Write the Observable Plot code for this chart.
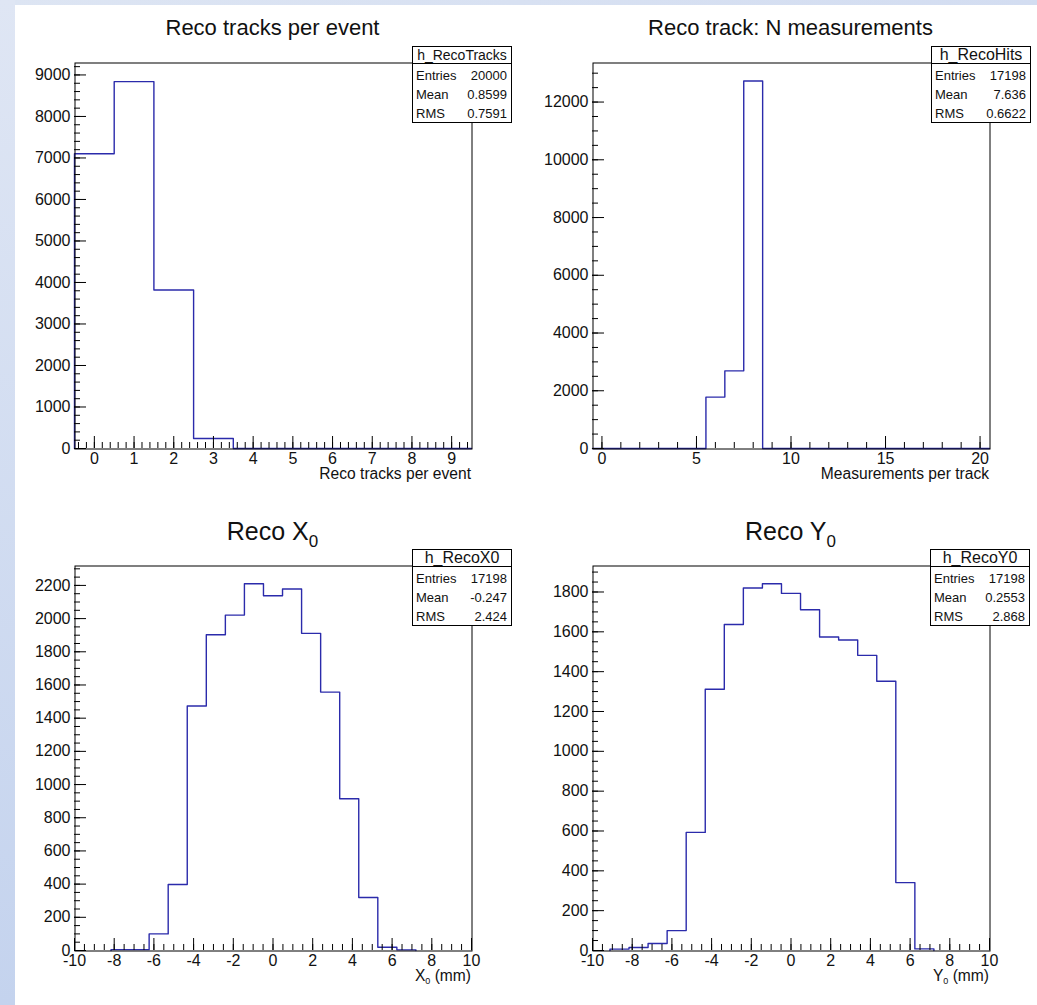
<!DOCTYPE html>
<html>
<head>
<meta charset="utf-8">
<script src="https://cdn.jsdelivr.net/npm/d3@7"></script>
<script src="https://cdn.jsdelivr.net/npm/@observablehq/plot@0.6"></script>
<style>
  html, body { margin: 0; padding: 0; background: #fff; }
  #page { position: relative; width: 1037px; height: 1005px; background: #fff; overflow: hidden;
          font-family: "Liberation Sans", Arial, Helvetica, sans-serif; color: #000; }
  #bgTop { position: absolute; left: 0; top: 0; width: 1037px; height: 5px; background: linear-gradient(90deg, #dde5f3, #d3ddf1); }
  #bgLeft { position: absolute; left: 0; top: 0; width: 15px; height: 1005px; background: linear-gradient(180deg, #dfe6f4, #c4d3ee); }
  .chart { position: absolute; }
  .title { position: absolute; text-align: center; line-height: 1; white-space: nowrap; color: #111; }
  .title sub { font-size: 17px; vertical-align: -7px; line-height: 0; }
  .xtitle { position: absolute; text-align: right; line-height: 1; font-size: 15.6px; white-space: nowrap; color: #111; }
  .xtitle sub { font-size: 9px; vertical-align: -3px; line-height: 0; }
  .stats { position: absolute; width: 100px; height: 77px; background: #fff; border: 1px solid #000; box-sizing: border-box; color: #111; }
  .stats .hdr { position: absolute; left: 0; top: 0; width: 98px; height: 16px; border-bottom: 1px solid #000;
                text-align: center; line-height: 16px; white-space: nowrap; }
  .stats .lab, .stats .val { position: absolute; font-size: 13px; line-height: 13px; white-space: nowrap; }
  .stats .lab { left: 3px; }
  .stats .val { right: 4px; }
</style>
</head>
<body>
<div id="page">
  <div id="bgTop"></div>
  <div id="bgLeft"></div>
</div>
<script>
// ---------- data ----------
// Panel 1: reconstructed tracks per event (unit bins centred on integers)
const tracksBinCenters = [0, 1, 2, 3, 4, 5, 6, 7, 8, 9];
const tracksCounts     = [7100, 8840, 3820, 240, 0, 0, 0, 0, 0, 0];
const tracksXTicks     = [0, 1, 2, 3, 4, 5, 6, 7, 8, 9];
const tracksYTicks     = [0, 1000, 2000, 3000, 4000, 5000, 6000, 7000, 8000, 9000];

// Panel 2: measurements per track (unit bins centred on integers)
const hitsBinCenters = [0, 1, 2, 3, 4, 5, 6, 7, 8, 9, 10, 11, 12, 13, 14, 15, 16, 17, 18, 19, 20];
const hitsCounts     = [0, 0, 0, 0, 0, 0, 1780, 2690, 12728, 0, 0, 0, 0, 0, 0, 0, 0, 0, 0, 0, 0];
const hitsXTicks     = [0, 5, 10, 15, 20];
const hitsYTicks     = [0, 2000, 4000, 6000, 8000, 10000, 12000];

// Panel 3: reconstructed X0 (bins of 0.96 mm, lower edges)
const x0BinLow  = [-8.16, -7.2, -6.24, -5.28, -4.32, -3.36, -2.4, -1.44, -0.48, 0.48, 1.44, 2.4, 3.36, 4.32, 5.28, 6.24];
const x0Counts  = [5, 5, 100, 398, 1473, 1903, 2021, 2210, 2138, 2178, 1911, 1557, 914, 319, 20, 4];
const x0YTicks  = [0, 200, 400, 600, 800, 1000, 1200, 1400, 1600, 1800, 2000, 2200];

// Panel 4: reconstructed Y0 (bins of 0.96 mm, lower edges)
const y0BinLow  = [-9.12, -8.16, -7.2, -6.24, -5.28, -4.32, -3.36, -2.4, -1.44, -0.48, 0.48, 1.44, 2.4, 3.36, 4.32, 5.28, 6.24];
const y0Counts  = [7, 15, 35, 100, 593, 1312, 1637, 1820, 1841, 1793, 1711, 1574, 1559, 1482, 1352, 341, 8];
const y0YTicks  = [0, 200, 400, 600, 800, 1000, 1200, 1400, 1600, 1800];

const posXTicks = [-10, -8, -6, -4, -2, 0, 2, 4, 6, 8, 10];
const posBinWidth = 0.96;

// Titles, axis titles and statistics boxes
const titles      = ["Reco tracks per event", "Reco track: N measurements", "Reco X<sub>0</sub>", "Reco Y<sub>0</sub>"];
const xTitles     = ["Reco tracks per event", "Measurements per track", "X<sub>0</sub> (mm)", "Y<sub>0</sub> (mm)"];
const statNames   = ["h_RecoTracks", "h_RecoHits", "h_RecoX0", "h_RecoY0"];
const statEntries = ["20000", "17198", "17198", "17198"];
const statMeans   = ["0.8599", "7.636", "-0.247", "0.2553"];
const statRMS     = ["0.7591", "0.6622", "2.424", "2.868"];

// ---------- rendering ----------
const FONT = '"Liberation Sans", Arial, Helvetica, sans-serif';
const TICKFONT = 16;
const BLUE = "#2b2bab";
const page = document.getElementById("page");
const fmt = d => String(d);

function histPanel(cfg) {
  const { left, top, width, height, mL, mR, mT, mB, xDomain, yDomain,
          lows, binWidth, counts, xMajor, xMinor, yMajor, yMinor } = cfg;
  const pts = [{ x: lows[0], y: 0 }];
  counts.forEach((c, i) => pts.push({ x: lows[i], y: c }));
  const end = lows[lows.length - 1] + binWidth;
  pts.push({ x: end, y: counts[counts.length - 1] }, { x: end, y: 0 });

  const chart = Plot.plot({
    width, height,
    marginLeft: mL, marginRight: mR, marginTop: mT, marginBottom: mB,
    x: { domain: xDomain, label: null },
    y: { domain: yDomain, label: null },
    style: { background: "transparent", fontFamily: FONT, fontSize: TICKFONT + "px", color: "#000", overflow: "visible" },
    marks: [
      Plot.line(pts, { x: "x", y: "y", curve: "step-after", stroke: BLUE, strokeWidth: 1.4 }),
      Plot.axisX(xMinor, { tickSize: -6, fill: "none", label: null }),
      Plot.axisX(xMajor, { tickSize: -12, tickPadding: 16, tickFormat: fmt, fontSize: TICKFONT, label: null }),
      Plot.axisY(yMinor, { tickSize: -6, fill: "none", label: null }),
      Plot.axisY(yMajor, { tickSize: -12, tickPadding: 16, tickFormat: fmt, fontSize: TICKFONT, label: null }),
      Plot.frame({ stroke: "#000", dx: 0.5, dy: 0.5 })
    ]
  });
  chart.classList.add("chart");
  chart.style.left = left + "px";
  chart.style.top = top + "px";
  chart.querySelectorAll("text").forEach(t => {
    t.style.fontSize = TICKFONT + "px";
    t.style.fontFamily = FONT;
    t.style.fill = "#111";
  });
  page.appendChild(chart);
  return { frameLeft: left + mL, frameRight: left + width - mR, frameTop: top + mT, frameBottom: top + height - mB };
}

const panels = [
  histPanel({ left: 0, top: 0, width: 520, height: 500, mL: 74, mR: 49, mT: 62, mB: 52,
    xDomain: [-0.5, 9.5], yDomain: [0, 9300],
    lows: tracksBinCenters.map(c => c - 0.5), binWidth: 1, counts: tracksCounts,
    xMajor: tracksXTicks, xMinor: d3.range(-0.4, 9.5, 0.2), yMajor: tracksYTicks, yMinor: d3.range(0, 9300, 200) }),
  histPanel({ left: 520, top: 0, width: 517, height: 500, mL: 72, mR: 48, mT: 62, mB: 52,
    xDomain: [-0.5, 20.5], yDomain: [0, 13370],
    lows: hitsBinCenters.map(c => c - 0.5), binWidth: 1, counts: hitsCounts,
    xMajor: hitsXTicks, xMinor: d3.range(0, 20.5, 1), yMajor: hitsYTicks, yMinor: d3.range(0, 13370, 500) }),
  histPanel({ left: 0, top: 500, width: 520, height: 505, mL: 74, mR: 49, mT: 65, mB: 55,
    xDomain: [-10, 10], yDomain: [0, 2320],
    lows: x0BinLow, binWidth: posBinWidth, counts: x0Counts,
    xMajor: posXTicks, xMinor: d3.range(-10, 10.01, 0.5), yMajor: x0YTicks, yMinor: d3.range(0, 2320, 50) }),
  histPanel({ left: 520, top: 500, width: 517, height: 505, mL: 72, mR: 48, mT: 65, mB: 55,
    xDomain: [-10, 10], yDomain: [0, 1933],
    lows: y0BinLow, binWidth: posBinWidth, counts: y0Counts,
    xMajor: posXTicks, xMinor: d3.range(-10, 10.01, 0.5), yMajor: y0YTicks, yMinor: d3.range(0, 1933, 50) })
];

const titleSizes = [22, 22, 25, 25];
const titleBaselines = [36, 36, 540, 540];
const hdrSizes = [14, 16, 16, 16];
const boxLefts = [412, 931, 412, 930];
const boxTops = [45.5, 45.5, 548.5, 548.5];

panels.forEach((p, i) => {
  // title, centred over the frame
  const t = document.createElement("div");
  t.className = "title";
  t.style.fontSize = titleSizes[i] + "px";
  const cx = (p.frameLeft + p.frameRight) / 2;
  t.style.left = (cx - 200) + "px";
  t.style.width = "400px";
  t.style.top = (titleBaselines[i] - 0.8465 * titleSizes[i]) + "px";
  t.innerHTML = titles[i];
  page.appendChild(t);

  // x-axis title, right-aligned to the frame
  const xt = document.createElement("div");
  xt.className = "xtitle";
  xt.style.right = (1037 - p.frameRight) + "px";
  xt.style.top = (p.frameBottom + 31 - 0.8465 * 15.6) + "px";
  xt.innerHTML = xTitles[i];
  page.appendChild(xt);

  // statistics box
  const s = document.createElement("div");
  s.className = "stats";
  s.style.left = boxLefts[i] + "px";
  s.style.top = boxTops[i] + "px";
  const h = document.createElement("div");
  h.className = "hdr";
  h.style.fontSize = hdrSizes[i] + "px";
  h.textContent = statNames[i];
  s.appendChild(h);
  [["Entries", statEntries[i]], ["Mean", statMeans[i]], ["RMS", statRMS[i]]].forEach(([lab, val], r) => {
    const y = [29, 47.5, 66.5][r] - 6.5;
    const a = document.createElement("div");
    a.className = "lab"; a.style.top = y + "px"; a.textContent = lab;
    const b = document.createElement("div");
    b.className = "val"; b.style.top = y + "px"; b.textContent = val;
    s.appendChild(a); s.appendChild(b);
  });
  page.appendChild(s);
});
</script>
</body>
</html>
